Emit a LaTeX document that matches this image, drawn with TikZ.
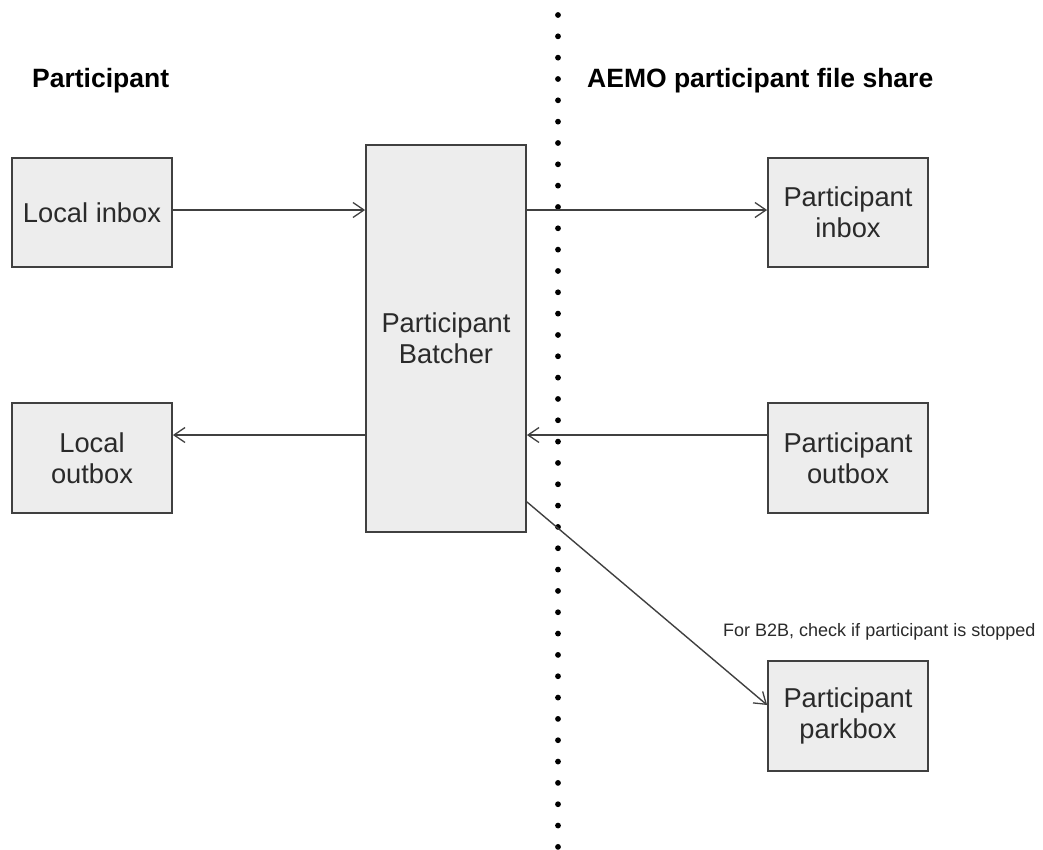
\documentclass[tikz,border=0pt]{standalone}
\usepackage{fontspec}
\setmainfont{Liberation Sans}
\usetikzlibrary{arrows.meta,calc}
\definecolor{boxfill}{HTML}{EDEDED}
\definecolor{boxline}{HTML}{404040}
\definecolor{txt}{HTML}{2A2A2A}
\begin{document}
\begin{tikzpicture}[x=1pt,y=-1pt,
  box/.style={draw=boxline,line width=1.8pt,fill=boxfill,minimum width=160pt,
    inner sep=0pt,align=center,text=txt,font=\fontsize{27.3}{31}\selectfont},
  arr/.style={draw=boxline,line width=1.4pt,-{Straight Barb[length=11pt,width=15pt,line width=1.3pt]}},
  title/.style={anchor=base west,inner sep=0pt,text=black,font=\fontsize{26.5}{30}\selectfont\bfseries},
  note/.style={anchor=base west,inner sep=0pt,text=txt,font=\fontsize{18}{22}\selectfont},
  dotmark/.style={fill=black,draw=none}]
\useasboundingbox (0,0) rectangle (1043,849);
% dotted divider
\foreach \i in {0,...,39}{
  \fill[dotmark] (558,{15+\i*21.33}) circle (2.9pt);
}
% titles
\node[title] (t1) at (32,87) {Participant};
\node[title] (t2) at (587,87) {AEMO participant file share};
% boxes
\node[box,minimum height=109pt] (linbox) at (92,212.5) {Local inbox};
\node[box,minimum height=110pt] (loutbox) at (92,458) {Local\\outbox};
\node[box,minimum height=387pt] (batcher) at (446,338.5) {Participant\\Batcher};
\node[box,minimum height=109pt] (pinbox) at (848,212.5) {Participant\\inbox};
\node[box,minimum height=110pt] (poutbox) at (848,458) {Participant\\outbox};
\node[box,minimum height=110pt] (parkbox) at (848,716) {Participant\\parkbox};
% note
\node[note] (n1) at (723,636) {For B2B, check if participant is stopped};
% connectors
\draw[arr] ([yshift=2.5pt]linbox.east) -- ([yshift=2.5pt]linbox.east -| batcher.west);
\draw[arr] ([yshift=2.5pt]pinbox.west -| batcher.east) -- ([yshift=2.5pt]pinbox.west);
\draw[arr] ([yshift=23pt]poutbox.west) -- ([yshift=23pt]poutbox.west -| batcher.east);
\draw[arr] ([yshift=23pt]loutbox.east -| batcher.west) -- ([yshift=23pt]loutbox.east);
\draw[arr] ([yshift=31pt]batcher.south east) -- ([yshift=11pt]parkbox.west);
\end{tikzpicture}
\end{document}
